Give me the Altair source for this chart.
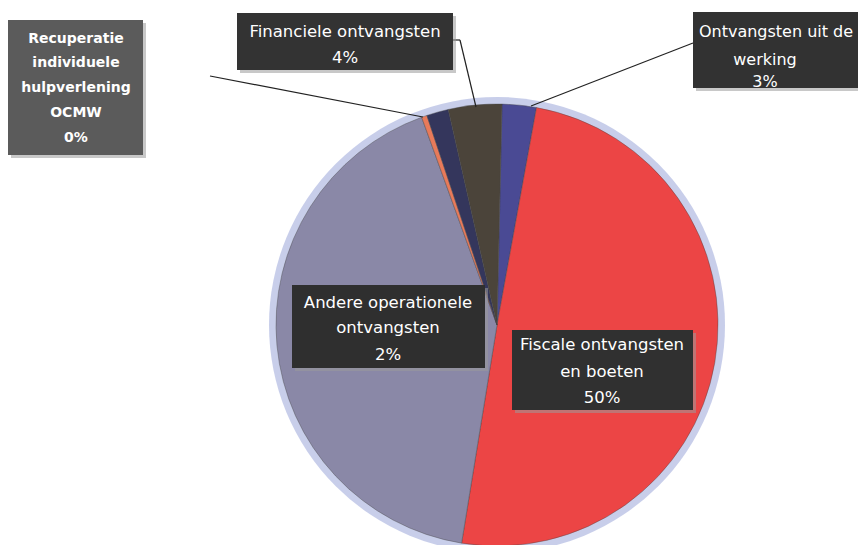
import math
import altair as alt
import pandas as pd

# ---- data ----
categories = ["Ontvangsten uit de werking", "Fiscale ontvangsten en boeten", "Overige (zonder label)",
              "Recuperatie individuele hulpverlening OCMW", "Andere operationele ontvangsten",
              "Financiele ontvangsten"]
values = [2.5, 49.7, 41.9, 0.4, 1.6, 3.9]
colors = ["#4a4a94", "#ec4545", "#8a88a7", "#e87a5a", "#34365c", "#4b443a"]

# label texts (line by line)
label_lines = [
    ["Recuperatie", "individuele", "hulpverlening", "OCMW", "0%"],
    ["Financiele ontvangsten", "4%"],
    ["Ontvangsten uit de", "werking", "3%"],
    ["Andere operationele", "ontvangsten", "2%"],
    ["Fiscale ontvangsten", "en boeten", "50%"],
]

# ---- layout (page pixel coordinates) ----
M = 8
W, H = 850, 537
CX, CY, R = 497, 325, 221
START = math.radians(1.3)

box_x1 = [8, 237, 693, 292, 512]
box_x2 = [143, 453, 880, 485, 693]
box_y1 = [20, 13, 12, 285, 330]
box_y2 = [155, 70, 88, 368, 410]
box_fill = ["#5b5b5b", "#333333", "#323232", "#2f2f2f", "#303030"]
text_cx = [76, 345, 765, 388, 602]
text_y = [[39, 63, 88, 113, 138], [32, 58], [32, 60, 82], [303, 328, 355], [345, 372, 398]]
text_size = [14, 16.5, 16, 16.5, 16.5]
text_weight = ["bold", "normal", "normal", "normal", "normal"]
text_dx_first = [0, 0, 11, 0, 0]

seg_x1 = [210, 453, 460, 693]
seg_y1 = [76, 40, 40, 43]
seg_x2 = [423, 460, 476, 531]
seg_y2 = [117, 40, 107, 106]

# ---- tables ----
pie_df = pd.DataFrame({"cat": categories, "value": values, "idx": list(range(len(values)))})

boxes = pd.DataFrame({
    "x1": [v - M for v in box_x1], "x2": [v - M for v in box_x2],
    "y1": [v - M for v in box_y1], "y2": [v - M for v in box_y2],
    "fill": box_fill,
})
shadows = boxes.copy()
for c in ["x1", "x2", "y1", "y2"]:
    shadows[c] = shadows[c] + 3

rows = []
for i, lines in enumerate(label_lines):
    for j, t in enumerate(lines):
        rows.append({"x": text_cx[i] - M + (text_dx_first[i] if j == 0 else 0),
                     "y": text_y[i][j] - M, "t": t, "grp": i})
text_df = pd.DataFrame(rows)

segs = pd.DataFrame({"x1": [v - M for v in seg_x1], "y1": [v - M for v in seg_y1],
                     "x2": [v - M for v in seg_x2], "y2": [v - M for v in seg_y2]})

glow = alt.Chart(pd.DataFrame({"a": [0]})).mark_arc(
    radius=R + 7, theta=0, theta2=2 * math.pi, color="#c2c9e8", opacity=0.9
).encode(x=alt.value(CX - M), y=alt.value(CY - M))

pie = alt.Chart(pie_df).mark_arc(radius=R, stroke="#444444", strokeWidth=0.4).encode(
    theta=alt.Theta("value:Q", stack=True,
                    scale=alt.Scale(domain=[0, 100], range=[START, START + 2 * math.pi])),
    color=alt.Color("cat:N", scale=alt.Scale(domain=categories, range=colors), legend=None),
    order=alt.Order("idx:Q"),
    x=alt.value(CX - M), y=alt.value(CY - M),
)

lines = alt.Chart(segs).mark_rule(color="#222222", strokeWidth=1.2).encode(
    x=alt.X("x1:Q", scale=None, axis=None), y=alt.Y("y1:Q", scale=None, axis=None),
    x2="x2:Q", y2="y2:Q")

shadow = alt.Chart(shadows).mark_rect(color="#9a9a9a", opacity=0.55).encode(
    x=alt.X("x1:Q", scale=None, axis=None), x2="x2:Q",
    y=alt.Y("y1:Q", scale=None, axis=None), y2="y2:Q")

rects = alt.Chart(boxes).mark_rect().encode(
    x=alt.X("x1:Q", scale=None, axis=None), x2="x2:Q",
    y=alt.Y("y1:Q", scale=None, axis=None), y2="y2:Q",
    fill=alt.Fill("fill:N", scale=None))

text_layers = []
for i in range(len(label_lines)):
    sub = text_df[text_df.grp == i]
    text_layers.append(
        alt.Chart(sub).mark_text(color="white", font="DejaVu Sans", fontSize=text_size[i],
                                 fontWeight=text_weight[i], baseline="middle", align="center").encode(
            x=alt.X("x:Q", scale=None, axis=None), y=alt.Y("y:Q", scale=None, axis=None), text="t:N"))

chart = alt.layer(glow, pie, lines, shadow, rects, *text_layers).properties(
    width=W, height=H, autosize=alt.AutoSizeParams(type="none"), padding=0,
    background="white"
).configure_view(stroke=None)

chart.save("out.html", embed_options={"renderer": "svg", "actions": False})
